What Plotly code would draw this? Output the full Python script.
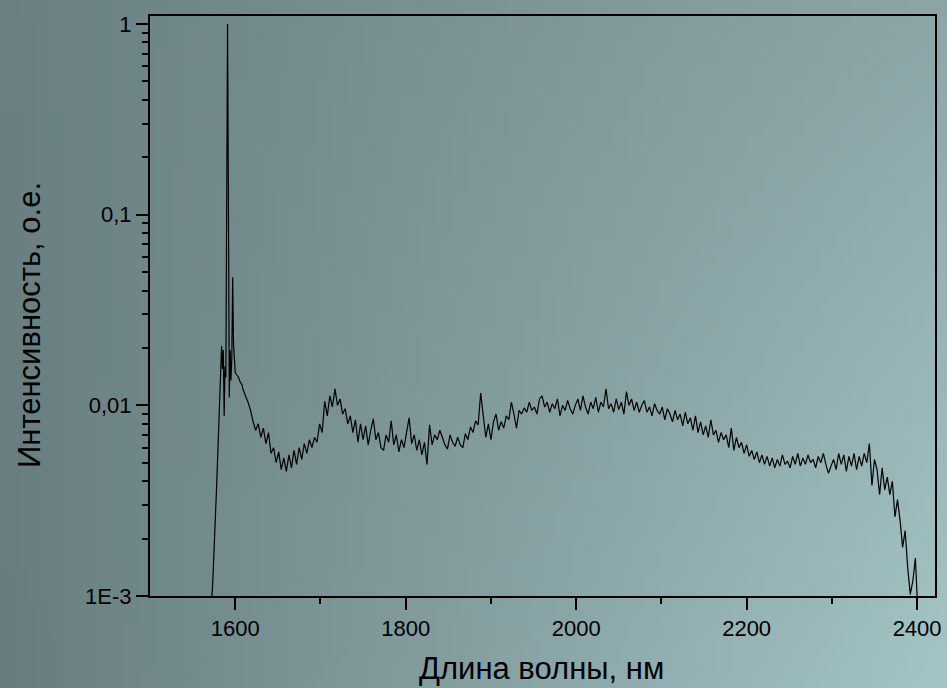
import base64
import struct
import zlib

import plotly.graph_objects as go

# ---------------- data ----------------
# fine-resolution head of the spectrum (1 nm step): rising edge and laser lines
wl_head = [1572, 1573, 1574, 1575, 1576, 1577, 1578, 1579, 1580, 1581, 1582, 1583,
           1584, 1585, 1586, 1587, 1588, 1589, 1590, 1591, 1592, 1593, 1594, 1595,
           1596, 1597, 1598, 1599, 1600, 1601, 1602, 1603, 1604, 1605, 1606, 1607,
           1608, 1609, 1610, 1611]
int_head = [0.00095, 0.00105, 0.0013, 0.0016, 0.0021, 0.0028, 0.0036, 0.0048, 0.0062,
            0.0085, 0.0125, 0.0185, 0.0205, 0.0155, 0.0195, 0.0088, 0.016, 0.014,
            0.25, 1.0, 0.12, 0.011, 0.0195, 0.0135, 0.018, 0.047, 0.021, 0.0175,
            0.0148, 0.0146, 0.0144, 0.0142, 0.014, 0.0135, 0.0133, 0.013, 0.0128,
            0.0122, 0.0118, 0.0114]

# body of the spectrum, 3 nm step starting at 1612 nm
body_start = 1612
body_step = 3
int_body = [
    0.0112, 0.0104, 0.0094, 0.0082, 0.0074, 0.0080, 0.0068, 0.0076, 0.0063, 0.0072,   # 1612-1639
    0.0056, 0.0060, 0.0050, 0.0057, 0.0046, 0.0053, 0.0045, 0.0055, 0.0047, 0.0058,   # 1642-1669
    0.0049, 0.0060, 0.0052, 0.0063, 0.0056, 0.0066, 0.0060, 0.0068, 0.0064, 0.0080,   # 1672-1699
    0.0072, 0.0105, 0.0088, 0.0112, 0.0098, 0.0122, 0.0100, 0.0108, 0.0090, 0.0096,   # 1702-1729
    0.0080, 0.0088, 0.0072, 0.0084, 0.0064, 0.0080, 0.0066, 0.0078, 0.0062, 0.0074,   # 1732-1759
    0.0085, 0.0066, 0.0072, 0.0060, 0.0058, 0.0070, 0.0064, 0.0083, 0.0062, 0.0070,   # 1762-1789
    0.0057, 0.0066, 0.0060, 0.0072, 0.0086, 0.0063, 0.0070, 0.0058, 0.0066, 0.0055,   # 1792-1819
    0.0064, 0.0049, 0.0079, 0.0062, 0.0070, 0.0066, 0.0074, 0.0068, 0.0062, 0.0059,   # 1822-1849
    0.0070, 0.0064, 0.0061, 0.0068, 0.0062, 0.0060, 0.0071, 0.0066, 0.0077, 0.0072,   # 1852-1879
    0.0083, 0.0079, 0.0116, 0.0088, 0.0068, 0.0080, 0.0066, 0.0082, 0.0090, 0.0074,   # 1882-1909
    0.0082, 0.0076, 0.0088, 0.0084, 0.0104, 0.0090, 0.0076, 0.0094, 0.0090, 0.0097,   # 1912-1939
    0.0092, 0.0104, 0.0094, 0.0098, 0.0090, 0.0108, 0.0112, 0.0098, 0.0104, 0.0092,   # 1942-1969
    0.0102, 0.0096, 0.0108, 0.0088, 0.0100, 0.0094, 0.0106, 0.0096, 0.0090, 0.0100,   # 1972-1999
    0.0108, 0.0094, 0.0112, 0.0098, 0.0090, 0.0104, 0.0096, 0.0110, 0.0092, 0.0104,   # 2002-2029
    0.0098, 0.0122, 0.0096, 0.0102, 0.0092, 0.0108, 0.0095, 0.0104, 0.0090, 0.0118,   # 2032-2059
    0.0100, 0.0108, 0.0094, 0.0104, 0.0092, 0.0100, 0.0106, 0.0092, 0.0098, 0.0088,   # 2062-2089
    0.0102, 0.0094, 0.0090, 0.0098, 0.0084, 0.0096, 0.0090, 0.0082, 0.0094, 0.0084,   # 2092-2119
    0.0090, 0.0078, 0.0092, 0.0080, 0.0086, 0.0074, 0.0088, 0.0072, 0.0082, 0.0070,   # 2122-2149
    0.0078, 0.0068, 0.0084, 0.0070, 0.0074, 0.0064, 0.0072, 0.0066, 0.0070, 0.0060,   # 2152-2179
    0.0076, 0.0058, 0.0068, 0.0060, 0.0064, 0.0056, 0.0062, 0.0054, 0.0058, 0.0052,   # 2182-2209
    0.0057, 0.0050, 0.0055, 0.0049, 0.0054, 0.0048, 0.0053, 0.0047, 0.0052, 0.0048,   # 2212-2239
    0.0055, 0.0049, 0.0051, 0.0047, 0.0054, 0.0049, 0.0056, 0.0048, 0.0053, 0.0049,   # 2242-2269
    0.0055, 0.0050, 0.0052, 0.0047, 0.0054, 0.0050, 0.0056, 0.0049, 0.0044, 0.0048,   # 2272-2299
    0.0052, 0.0046, 0.0056, 0.0049, 0.0055, 0.0045, 0.0054, 0.0048, 0.0056, 0.0046,   # 2302-2329
    0.0054, 0.0048, 0.0056, 0.0050, 0.0063, 0.0038, 0.0052, 0.0046, 0.0034, 0.0047,   # 2332-2359
    0.0036, 0.0042, 0.0034, 0.0040, 0.0026, 0.0032, 0.0025, 0.0018, 0.0022, 0.0014,   # 2362-2389
    0.00102, 0.0012, 0.00158, 0.0008,                                                 # 2392-2401
]

x_tick_vals = [1600, 1800, 2000, 2200, 2400]
x_minor_vals = [1700, 1900, 2100, 2300]
y_tick_vals = [0.001, 0.01, 0.1, 1]
y_tick_text = ["1E-3", "0,01", "0,1", "1"]
y_minor_vals = [m * d for d in (0.001, 0.01, 0.1) for m in range(2, 10)]

x_title = "Длина волны, нм"
y_title = "Интенсивность, о.е."

wavelength = wl_head + [body_start + body_step * i for i in range(len(int_body))]
intensity = int_head + int_body

# ---------------- background gradient image ----------------
W, H = 947, 688
L, R, T, B = 150, 935, 16, 596
PW, PH = R - L, B - T

TL = (106, 128, 130)
TR = (140, 166, 168)
BL = (104, 125, 127)
BR = (164, 196, 198)


def make_png(w, h):
    rows = b""
    for j in range(h):
        v = j / (h - 1)
        row = b"\x00"
        for i in range(w):
            u = i / (w - 1)
            px = []
            for c in range(3):
                top = TL[c] * (1 - u) + TR[c] * u
                bot = BL[c] * (1 - u) + BR[c] * u
                px.append(int(round(top * (1 - v) + bot * v)))
            row += bytes(px)
        rows += row

    def chunk(tag, data):
        return (struct.pack(">I", len(data)) + tag + data
                + struct.pack(">I", zlib.crc32(tag + data) & 0xFFFFFFFF))

    ihdr = struct.pack(">IIBBBBB", w, h, 8, 2, 0, 0, 0)
    png = (b"\x89PNG\r\n\x1a\n" + chunk(b"IHDR", ihdr)
           + chunk(b"IDAT", zlib.compress(rows, 9)) + chunk(b"IEND", b""))
    return "data:image/png;base64," + base64.b64encode(png).decode()


bg_src = make_png(64, 48)

# ---------------- figure ----------------
font_family = "Liberation Sans, Arial, sans-serif"

fig = go.Figure()
fig.add_trace(go.Scatter(
    x=wavelength, y=intensity, mode="lines",
    line=dict(color="black", width=1.2),
    hoverinfo="skip", showlegend=False,
))

fig.add_layout_image(dict(
    source=bg_src, xref="paper", yref="paper",
    x=-L / PW, y=1 + T / PH, sizex=W / PW, sizey=H / PH,
    xanchor="left", yanchor="top", sizing="stretch", layer="below",
))

axis_common = dict(
    showgrid=False, zeroline=False, showline=True, linecolor="black",
    linewidth=2, mirror=True, ticks="outside", ticklen=12, tickwidth=2,
    tickcolor="black", tickfont=dict(family=font_family, size=22, color="black"),
)

fig.update_xaxes(
    **axis_common,
    range=[1500, 2421], tickmode="array", tickvals=x_tick_vals,
    ticktext=[str(v) for v in x_tick_vals],
    minor=dict(tickmode="array", tickvals=x_minor_vals, ticks="outside",
               ticklen=6, tickwidth=2, tickcolor="black"),
)
fig.update_yaxes(
    **axis_common,
    type="log", range=[-3, 0.042], tickmode="array", tickvals=y_tick_vals,
    ticktext=y_tick_text,
    minor=dict(tickmode="array", tickvals=y_minor_vals, ticks="outside",
               ticklen=6, tickwidth=2, tickcolor="black"),
)

title_font = dict(family=font_family, size=31, color="black")
fig.add_annotation(
    text=x_title, xref="paper", yref="paper",
    x=(541 - L) / PW, y=-(668 - B) / PH, xanchor="center", yanchor="middle",
    showarrow=False, font=title_font,
)
fig.add_annotation(
    text=y_title, xref="paper", yref="paper", textangle=-90,
    x=-(L - 29) / PW, y=(B - 325) / PH, xanchor="center", yanchor="middle",
    showarrow=False, font=title_font,
)

fig.update_layout(
    width=W, height=H,
    margin=dict(l=L, r=W - R, t=T, b=H - B, autoexpand=False),
    paper_bgcolor="rgba(0,0,0,0)", plot_bgcolor="rgba(0,0,0,0)",
    font=dict(family=font_family, color="black"),
)

fig.write_html("out.html")
